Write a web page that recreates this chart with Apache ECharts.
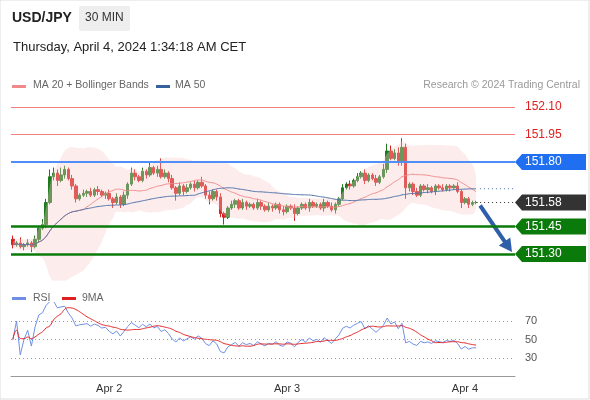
<!DOCTYPE html><html><head><meta charset="utf-8"><script src="https://cdn.jsdelivr.net/npm/echarts@6/dist/echarts.min.js"></script>
<style>body{margin:0;background:#fff}#c{width:590px;height:400px}</style></head><body><div id="c"></div><script>
const closes=[151.35,151.36,151.34,151.35,151.36,151.34,151.38,151.44,151.46,151.58,151.72,
151.74,151.70,151.73,151.76,151.71,151.67,151.60,
151.62,151.63,151.64,151.62,151.65,151.64,151.62,151.63,151.60,
151.58,151.61,151.57,151.62,151.68,151.74,151.72,
151.70,151.75,151.73,151.77,151.74,151.76,151.72,151.74,151.71,
151.66,151.63,151.67,151.64,151.66,151.68,151.66,151.69,151.67,
151.62,151.60,151.64,151.61,151.52,151.50,151.55,
151.57,151.59,151.55,151.58,151.56,151.57,151.55,151.58,151.56,151.54,151.56,151.55,151.57,151.54,151.53,151.56,151.55,151.52,151.55,151.57,
151.55,151.58,151.56,151.57,151.55,151.58,151.56,151.54,151.57,
151.60,151.66,151.68,151.67,
151.70,151.72,151.74,151.70,151.73,151.71,151.69,151.72,151.76,
151.86,151.82,151.85,151.80,151.88,
151.66,151.68,151.64,
151.62,151.67,151.65,151.66,151.64,151.67,151.66,151.65,151.67,151.66,151.67,151.64,
151.58,151.60,151.57,151.58,151.58];
const firstOpen=151.38;
const wickUp=[2,1,3,1,2,1,2,1,3,2,4,3,2,4,2,1,2,1,1,2,1,2,1,2,1,1,2,1,2,1,2,1,3,2,1,2,1,3,1,2,6,2,1,2,1,2,1,2,1,2,1,3,1,2,1,1,2,1,1,2,1,1,2,1,1,1,2,1,1,2,1,1,1,2,1,1,2,1,1,1,2,1,1,1,2,1,2,1,1,2,1,2,1,2,1,2,1,1,2,1,3,4,3,2,3,5,2,1,1,2,1,1,2,1,1,1,2,1,1,1,2,1,1,1,1,1];
const wickDn=[2,1,1,2,1,3,1,2,1,2,1,2,3,1,2,1,2,2,1,1,2,1,1,2,1,2,1,3,1,2,1,2,1,2,1,1,2,1,1,2,1,1,2,1,4,1,2,1,1,2,1,1,2,3,1,2,2,4,1,1,2,1,1,2,1,1,1,2,1,1,2,1,2,2,1,1,4,1,1,1,2,1,1,1,2,1,1,2,1,1,1,2,1,1,1,2,1,1,2,1,1,2,1,1,2,2,6,2,2,1,1,1,2,1,2,1,1,1,2,1,1,3,1,2,1,1];
const dateLabels={26:'Apr 2',74:'Apr 3',122:'Apr 4'};
const levels={r1:152.10,r2:151.95,pivot:151.80,last:151.58,s1:151.45,s2:151.30};

const N=closes.length, cats=[...Array(N).keys()];
const ohlc=closes.map((c,i)=>{const o=i?closes[i-1]:firstOpen;return [o,c,Math.min(o,c)-wickDn[i]/100,Math.max(o,c)+wickUp[i]/100];});
function ma(arr,n){return arr.map((_,i)=>{const s=arr.slice(Math.max(0,i-n+1),i+1);return s.reduce((a,b)=>a+b,0)/s.length;});}
const ma20=ma(closes,20),ma50=ma(closes,50);
const sd=closes.map((_,i)=>{const s=closes.slice(Math.max(0,i-19),i+1);const m=ma20[i];return Math.sqrt(s.reduce((a,b)=>a+(b-m)**2,0)/s.length);});
const lower=ma20.map((m,i)=>m-2*sd[i]-0.015), bw=sd.map(s=>4*s+0.03);
let rsi=[],ag=0,al=0;
closes.forEach((c,i)=>{if(!i){rsi.push(50);return;}const d=c-closes[i-1];const g=Math.max(d,0),l=Math.max(-d,0);
if(i<=14){ag=(ag*(i-1)+g)/i;al=(al*(i-1)+l)/i;}else{ag=(ag*13+g)/14;al=(al*13+l)/14;}
rsi.push(al===0?70:100-100/(1+ag/al));});
const rsiMa=ma(rsi,9);

const ch=echarts.init(document.getElementById('c'));
const ml=(v,color,w,type)=>({yAxis:v,lineStyle:{color,width:w,type:type||'solid'},label:{show:false}});
const XMAX=N+9;
ch.setOption({animation:false,textStyle:{fontFamily:'Arial, Liberation Sans'},
grid:[{left:11,right:75,top:88,height:195},{left:11,right:75,top:302.5,height:74}],
xAxis:[{type:'category',data:cats,boundaryGap:true,min:0,max:XMAX,axisLine:{show:false},axisTick:{show:false},axisLabel:{show:false},gridIndex:0},
{type:'category',data:cats,gridIndex:1,min:0,max:XMAX,axisLine:{onZero:false,lineStyle:{color:'#999'}},axisTick:{show:false},
axisLabel:{interval:i=>dateLabels[i]!==undefined,formatter:v=>dateLabels[v]||'',color:'#333',fontSize:11,margin:7},splitLine:{show:false}}],
yAxis:[{scale:true,min:151.142,max:152.203,gridIndex:0,show:false,splitLine:{show:false}},
{min:10,max:90,interval:20,gridIndex:1,position:'right',axisLine:{show:false},axisTick:{show:false},
axisLabel:{formatter:v=>(v>=30&&v<=70)?v:'',color:'#555',fontSize:11,margin:10},splitLine:{show:false}}],
series:[
{type:'line',data:lower,stack:'bb',symbol:'none',lineStyle:{width:0},smooth:true,silent:true},
{type:'line',data:bw,stack:'bb',symbol:'none',lineStyle:{width:0},areaStyle:{color:'rgba(250,200,200,0.5)'},smooth:true,silent:true},
{type:'line',data:ma20,symbol:'none',lineStyle:{color:'#f08a8a',width:1},smooth:true},
{type:'line',data:ma50,symbol:'none',lineStyle:{color:'#4a6fa8',width:1},smooth:true},
{type:'candlestick',data:ohlc,barWidth:3,itemStyle:{color:'#1f7a1f',color0:'#d42020',borderColor:'#1f7a1f',borderColor0:'#d42020'},
markLine:{symbol:'none',silent:true,data:[ml(levels.r1,'#f08080',1),ml(levels.r2,'#f08080',1),ml(levels.pivot,'#4f8ef7',2),ml(levels.s1,'#0a7a0a',2.5),ml(levels.s2,'#0a7a0a',2.5)]}},
{type:'line',xAxisIndex:1,yAxisIndex:1,data:rsi,symbol:'none',lineStyle:{color:'#6f8fe6',width:1},
markLine:{symbol:'none',silent:true,label:{show:false},lineStyle:{color:'#999',type:[1,3],width:1},data:[{yAxis:30},{yAxis:50},{yAxis:70}]}},
{type:'line',xAxisIndex:1,yAxisIndex:1,data:rsiMa,symbol:'none',lineStyle:{color:'#e02020',width:1},smooth:true}
]});
const P=(i,v)=>ch.convertToPixel({gridIndex:0},[i,v]);
const R=515;
const tag=(v,bg,fg)=>{const y=P(0,v)[1];return [
{type:'polygon',shape:{points:[[R,y],[R+7,y-8],[586,y-8],[586,y+8],[R+7,y+8]]},style:{fill:bg}},
{type:'text',x:525,y:y,style:{text:v.toFixed(2),fill:fg,font:'12px Arial',verticalAlign:'middle'}}];};
const lastP=P(N-1,levels.last), maP=P(N-1,ma50[N-1]);
const arrowEnd=[512,P(0,151.31)[1]];
const ang=Math.atan2(arrowEnd[1]-lastP[1]-4,arrowEnd[0]-lastP[0]-4);
const hx=arrowEnd[0],hy=arrowEnd[1];
const head=[[hx,hy],[hx-13*Math.cos(ang)+7*Math.sin(ang),hy-13*Math.sin(ang)-7*Math.cos(ang)],[hx-13*Math.cos(ang)-7*Math.sin(ang),hy-13*Math.sin(ang)+7*Math.cos(ang)]];
ch.setOption({graphic:[
{type:'rect',shape:{x:0,y:0,width:589,height:399},style:{fill:'none',stroke:'#ddd'}},
{type:'text',x:12,y:11,style:{text:'USD/JPY',font:'bold 14px Arial',fill:'#222'}},
{type:'rect',shape:{x:79,y:6,width:51,height:25,r:2},style:{fill:'#eee'}},
{type:'text',x:85,y:12,style:{text:'30 MIN',font:'12px Arial',fill:'#333'}},
{type:'text',x:13,y:41,style:{text:'Thursday, April 4, 2024 1:34:18 AM CET',font:'13px Arial',fill:'#222'}},
{type:'rect',shape:{x:12,y:85,width:14,height:3},style:{fill:'#f08a8a'}},
{type:'text',x:33,y:80,style:{text:'MA 20 + Bollinger Bands',font:'10.5px Arial',fill:'#666'}},
{type:'rect',shape:{x:156,y:85,width:14,height:3},style:{fill:'#36609e'}},
{type:'text',x:175,y:80,style:{text:'MA 50',font:'10.5px Arial',fill:'#666'}},
{type:'text',x:580,y:80,style:{text:'Research © 2024 Trading Central',font:'10.5px Arial',fill:'#999',align:'right'}},
{type:'rect',shape:{x:12,y:297,width:14,height:3},style:{fill:'#6f8fe6'}},
{type:'text',x:33,y:293,style:{text:'RSI',font:'10.5px Arial',fill:'#666'}},
{type:'rect',shape:{x:62,y:297,width:14,height:3},style:{fill:'#e02020'}},
{type:'text',x:82,y:293,style:{text:'9MA',font:'10.5px Arial',fill:'#666'}},
{type:'text',x:525,y:P(0,levels.r1)[1],style:{text:'152.10',font:'12px Arial',fill:'#e02020',verticalAlign:'middle'}},
{type:'text',x:525,y:P(0,levels.r2)[1],style:{text:'151.95',font:'12px Arial',fill:'#e02020',verticalAlign:'middle'}},
...tag(levels.pivot,'#1f6ff0','#fff'),...tag(levels.last,'#333','#fff'),...tag(levels.s1,'#0a7a0a','#fff'),...tag(levels.s2,'#0a7a0a','#fff'),
{type:'line',shape:{x1:lastP[0]+4,y1:lastP[1],x2:R,y2:lastP[1]},style:{stroke:'#333',lineDash:[1,3],lineWidth:1}},
{type:'line',shape:{x1:maP[0]+4,y1:maP[1],x2:R,y2:maP[1]},style:{stroke:'#4a6fa8',lineDash:[1,3],lineWidth:1}},
{type:'line',shape:{x1:lastP[0]+4,y1:lastP[1]+3,x2:hx-10*Math.cos(ang),y2:hy-10*Math.sin(ang)},style:{stroke:'#2f5fa8',lineWidth:4}},
{type:'polygon',shape:{points:head},style:{fill:'#2f5fa8'}}
]});
</script></body></html>
